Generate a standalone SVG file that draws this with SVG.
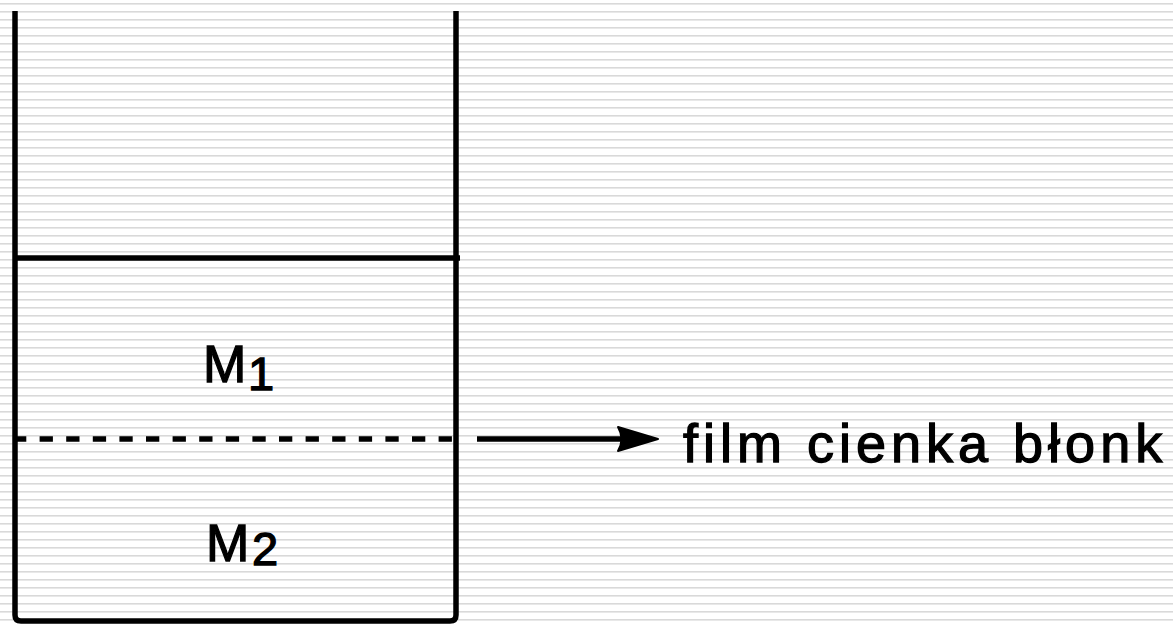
<svg xmlns="http://www.w3.org/2000/svg" width="1173" height="625" viewBox="0 0 1173 625">
<style>
.ln{fill:none;stroke:#000;stroke-width:5.5}
.lbl{font-family:"Liberation Sans",Arial,sans-serif;fill:#000;stroke:#000;stroke-width:1.3}
</style>
<defs>
<pattern id="bg" width="8" height="8" patternUnits="userSpaceOnUse">
<rect x="0" y="0" width="8" height="8" fill="#fff"/>
<rect x="0" y="3" width="8" height="1.6" fill="#d9d9d9"/>
</pattern>
</defs>
<rect width="1173" height="625" fill="url(#bg)"/>
<g id="vessel">
<path class="ln" d="M15,11 V615 Q15,621 21,621 H450 Q456,621 456,615 V11"/>
</g>
<g id="layer-M1">
<text class="lbl" x="203" y="382" font-size="52">M<tspan x="248" y="390" font-size="47">1</tspan></text>
</g>
<g id="layer-M2">
<text class="lbl" x="206" y="561" font-size="52">M<tspan x="252" y="565" font-size="47">2</tspan></text>
</g>
<g id="film-label">
<text class="lbl" x="683" y="461.5" font-size="54" letter-spacing="5">film cienka błonk</text>
</g>
<g id="connectors">
<line class="ln" x1="15" y1="258" x2="460" y2="258"/>
<line class="ln" x1="13" y1="439" x2="455" y2="439" stroke-width="6" stroke-dasharray="13.3 13.3"/>
<line class="ln" x1="477" y1="439" x2="625" y2="439" stroke-width="6"/>
<path d="M618,427 L658,439 L618,451 Q625,439 618,427 Z" fill="#000" stroke="#000" stroke-width="2" stroke-linejoin="round"/>
</g>
</svg>
